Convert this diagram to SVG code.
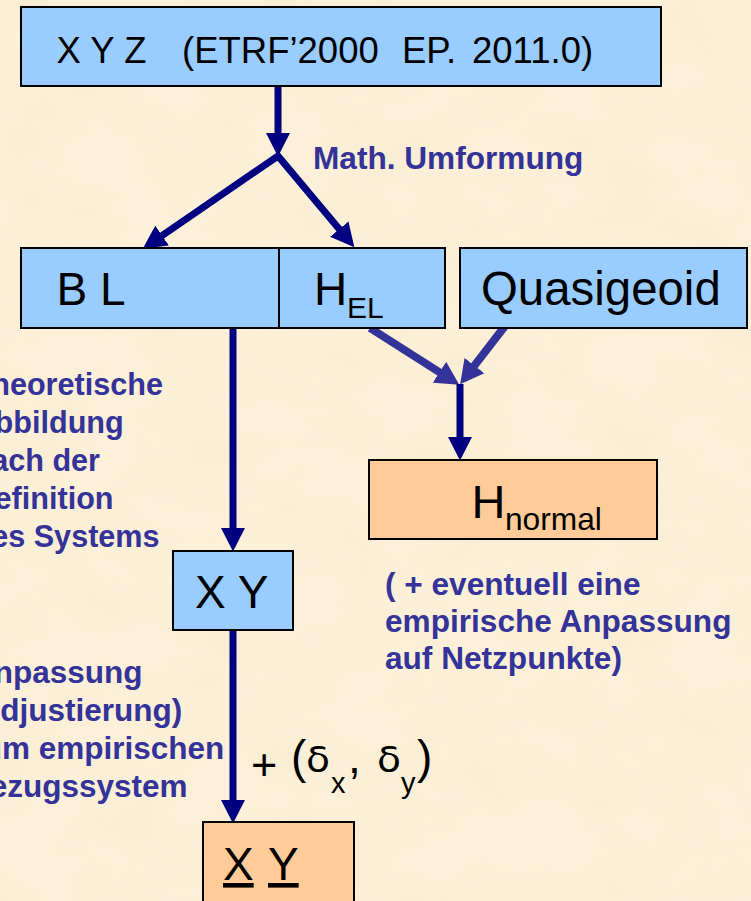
<svg xmlns="http://www.w3.org/2000/svg" width="751" height="901" viewBox="0 0 751 901">
<style>
.box{stroke:#000;stroke-width:2}
.blue{fill:#99CCFF}
.orange{fill:#FFCC99}
.lbl{font-family:"Liberation Sans",Arial,sans-serif;fill:#000}
.note{font-family:"Liberation Sans",Arial,sans-serif;font-weight:bold;fill:#333399;font-size:31.6px}
.side{font-size:30.6px}
.side2{font-size:31.5px}
.con{fill:none;stroke:#000080;stroke-width:7}
.con2{fill:none;stroke:#333399;stroke-width:8}
.greek{font-family:"DejaVu Sans","Liberation Sans",sans-serif;fill:#000}
</style>
<defs>
<filter id="paper" x="0" y="0" width="100%" height="100%">
<feTurbulence type="fractalNoise" baseFrequency="0.012 0.016" numOctaves="4" seed="7"/>
<feColorMatrix type="matrix" values="0 0 0 0 0.90  0 0 0 0 0.79  0 0 0 0 0.60  0.9 0 0 0 -0.38"/>
</filter>
<marker id="ah" markerUnits="userSpaceOnUse" markerWidth="24" markerHeight="25" refX="8" refY="12.5" orient="auto-start-reverse" viewBox="0 0 24 25">
<path d="M0,0.5 L23.5,12.5 L0,24.5 z" fill="#000080"/>
</marker>
<marker id="ah2" markerUnits="userSpaceOnUse" markerWidth="24" markerHeight="26" refX="8" refY="13" orient="auto" viewBox="0 0 24 26">
<path d="M0,0.5 L23.5,13 L0,25.5 z" fill="#333399"/>
</marker>
</defs>
<rect x="0" y="0" width="751" height="901" fill="#FCF0D8"/>
<rect x="0" y="0" width="751" height="901" filter="url(#paper)" opacity="0.8"/>

<g id="connectors">
<line class="con" x1="278" y1="86" x2="278" y2="141" marker-end="url(#ah)"/>
<path class="con" stroke-linejoin="miter" d="M155.5,240.1 L278,156 L344.4,235.3" marker-start="url(#ah)" marker-end="url(#ah)"/>
<line class="con" x1="233" y1="329" x2="233" y2="536" marker-end="url(#ah)"/>
<line class="con" x1="233" y1="630" x2="233" y2="808" marker-end="url(#ah)"/>
<line class="con2" x1="370" y1="328" x2="446.2" y2="376.5" marker-end="url(#ah2)"/>
<line class="con2" x1="505" y1="326" x2="469.6" y2="371.9" marker-end="url(#ah2)"/>
<line class="con" stroke-width="8" x1="460" y1="384" x2="460" y2="445" marker-end="url(#ah)"/>
</g>

<g id="xyz">
<rect class="box blue" x="21" y="7" width="640" height="79"/>
<text class="lbl" font-size="36.5" y="63"><tspan x="56.5">X Y Z</tspan><tspan x="182">(ETRF’2000</tspan><tspan x="402">EP.</tspan><tspan x="472">2011.0)</tspan></text>
</g>

<g id="math-label">
<text class="note" x="313" y="169">Math. Umformung</text>
</g>

<g id="bl-hel">
<rect class="box blue" x="21" y="248" width="424" height="80"/>
<line x1="279" y1="248" x2="279" y2="328" stroke="#000" stroke-width="2"/>
<text class="lbl" font-size="46" x="56.5" y="305">B L</text>
<text class="lbl" font-size="46" x="314" y="305">H<tspan font-size="30" x="347" y="318">EL</tspan></text>
</g>

<g id="quasigeoid">
<rect class="box blue" x="460" y="248" width="287" height="80"/>
<text class="lbl" font-size="47.4" x="481" y="305">Quasigeoid</text>
</g>

<g id="hnormal">
<rect class="box orange" x="369" y="460" width="288" height="79"/>
<text class="lbl" font-size="47" x="471.5" y="518">H<tspan font-size="31.7" x="505" y="530">normal</tspan></text>
</g>

<g id="note-right">
<text class="note" x="385"><tspan x="385" y="595">( + eventuell eine</tspan><tspan x="385" y="632">empirische Anpassung</tspan><tspan x="385" y="669">auf Netzpunkte)</tspan></text>
</g>

<g id="note-left-top">
<text class="note side"><tspan x="-27.5" y="395">Theoretische</tspan><tspan x="-27.5" y="433">Abbildung</tspan><tspan x="-27.5" y="471">nach der</tspan><tspan x="-27.5" y="509">Definition</tspan><tspan x="-27.5" y="547">des Systems</tspan></text>
</g>

<g id="xy">
<rect class="box blue" x="173" y="551" width="120" height="79"/>
<text class="lbl" font-size="46" x="195" y="608">X Y</text>
</g>

<g id="note-left-bottom">
<text class="note side2"><tspan x="-29" y="683">Anpassung</tspan><tspan x="-33" y="721">(Adjustierung)</tspan><tspan x="-33" y="759">zum empirischen</tspan><tspan x="-33" y="797">Bezugssystem</tspan></text>
</g>

<g id="delta-label">
<text class="lbl" font-size="45" x="251" y="780">+</text>
<text class="lbl" font-size="46" y="773"><tspan x="291">(</tspan><tspan x="331" y="793" font-size="29">x</tspan><tspan x="348" y="773">,</tspan><tspan x="401" y="793" font-size="29">y</tspan><tspan x="417" y="773">)</tspan></text>
<text class="greek" font-size="36" y="772"><tspan x="306" textLength="24" lengthAdjust="spacingAndGlyphs">δ</tspan><tspan x="377" textLength="24" lengthAdjust="spacingAndGlyphs">δ</tspan></text>
</g>

<g id="xy-result">
<rect class="box orange" x="203" y="822" width="151" height="90"/>
<text class="lbl" font-size="46" y="880"><tspan x="223" text-decoration="underline">X</tspan><tspan x="268" text-decoration="underline">Y</tspan></text>
</g>
</svg>
